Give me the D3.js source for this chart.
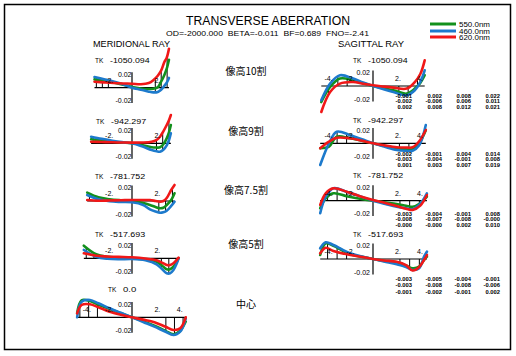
<!DOCTYPE html>
<html><head><meta charset="utf-8">
<script src="https://cdn.jsdelivr.net/npm/d3@7"></script>
<style>body{margin:0;background:#fff}svg{display:block}</style>
</head><body>
<svg id="chart" width="516" height="356"></svg>
<script>
// ---------------- DATA ----------------
const titleText = "TRANSVERSE ABERRATION";
const subtitleText = "OD=-2000.000\u00a0\u00a0BETA=-0.011\u00a0\u00a0BF=0.689\u00a0\u00a0FNO=-2.41";
const wavelengths = ["550.0nm", "460.0nm", "620.0nm"];
const fieldLabels = ["像高10割", "像高9割", "像高7.5割", "像高5割", "中心"];
const tkValues = ["-1050.094", "-942.297", "-781.752", "-517.693", "0.0"];
const xTickValues = [-4, -2, 2, 4];
const yTickValues = [0.02, -0.02];

// Meridional ray fans: pupil coordinate and aberration per wavelength
const merPupil = [
  [-3.35, -2.5, -1.65, -0.8, 0, 0.8, 1.5, 1.9, 2.3, 2.6, 2.9, 3.1, 3.3],
  [-3.65, -2.7, -1.75, -0.9, 0, 0.9, 1.75, 2.2, 2.5, 2.8, 3.1, 3.3, 3.47],
  [-4.0, -3.0, -2.0, -1.0, 0, 1.0, 1.6, 2.1, 2.5, 2.8, 3.1, 3.5, 3.8],
  [-4.3, -3.2, -2.2, -1.2, 0, 1.2, 2.2, 2.7, 3.1, 3.4, 3.7, 4.0, 4.16],
  [-4.9, -4.5, -3.75, -3.0, -2.0, -1.0, 0, 1.0, 2.0, 3.0, 3.7, 4.3, 4.8]
];
const merGreen = [
  [0.0119, 0.0100, 0.0076, 0.0043, 0.0010, -0.0011, -0.0019, -0.0014, 0.0007, 0.0086, 0.0186, 0.0271, 0.0400],
  [0.0057, 0.0040, 0.0023, 0.0011, 0, -0.0026, -0.0057, -0.0061, -0.0057, -0.0014, 0.0071, 0.0157, 0.0261],
  [0.0119, 0.0053, 0.0026, 0.0011, 0, -0.0029, -0.0057, -0.0086, -0.0104, -0.0097, -0.0057, 0.0014, 0.0110],
  [0.0180, 0.0057, 0.0021, 0.0009, 0, -0.0017, -0.0050, -0.0107, -0.0157, -0.0157, -0.0119, -0.0050, 0],
  [0.0057, 0.0243, 0.0233, 0.0179, 0.0119, 0.0057, 0, -0.0057, -0.0119, -0.0193, -0.0243, -0.0193, -0.0061]
];
const merBlue = [
  [0.0153, 0.0122, 0.0090, 0.0050, 0, -0.0029, -0.0057, -0.0067, -0.0061, -0.0029, 0.0029, 0.0071, 0.0139],
  [0.0094, 0.0064, 0.0037, 0.0017, 0, -0.0043, -0.0096, -0.0114, -0.0120, -0.0093, -0.0029, 0.0043, 0.0143],
  [0.0086, 0.0024, -0.0004, -0.0014, -0.0019, -0.0057, -0.0119, -0.0150, -0.0167, -0.0160, -0.0139, -0.0071, -0.0010],
  [0.0119, 0.0023, -0.0007, -0.0014, -0.0010, -0.0029, -0.0086, -0.0157, -0.0214, -0.0214, -0.0167, -0.0071, 0],
  [0, 0.0223, 0.0247, 0.0200, 0.0129, 0.0064, 0, -0.0067, -0.0134, -0.0207, -0.0253, -0.0206, -0.0014]
];
const merRed = [
  [0.0086, 0.0076, 0.0067, 0.0061, 0.0057, 0.0050, 0.0067, 0.0107, 0.0171, 0.0243, 0.0371, 0.0429, 0.0557],
  [0.0023, 0.0019, 0.0014, 0.0011, 0.0009, 0.0011, 0.0023, 0.0050, 0.0094, 0.0171, 0.0261, 0.0329, 0.0404],
  [0.0014, 0.0004, 0.0007, 0.0011, 0.0014, 0.0014, 0.0014, 0, -0.0010, 0, 0.0043, 0.0157, 0.0229],
  [0.0071, 0.0037, 0.0026, 0.0020, 0.0014, -0.0003, -0.0029, -0.0064, -0.0096, -0.0096, -0.0071, -0.0021, 0.0009],
  [0.0057, 0.0176, 0.0186, 0.0143, 0.0080, 0.0036, 0, -0.0033, -0.0071, -0.0136, -0.0181, -0.0157, 0]
];

// Sagittal ray fans
const sagPupil = [
  [-4.7, -3.9, -3.0, -1.8, -0.9, 0, 0.9, 1.85, 3.06, 3.8, 4.3, 4.7],
  [-4.8, -4.0, -3.3, -2.1, -1.0, 0, 1.0, 2.15, 3.0, 3.6, 4.2, 4.8],
  [-4.8, -4.3, -3.6, -2.4, -1.2, 0, 1.2, 2.15, 3.0, 3.6, 4.3, 4.9],
  [-4.8, -4.3, -3.6, -2.06, -1.0, 0, 1.0, 2.15, 3.0, 3.6, 4.2, 4.64, 4.9]
];
const sagGreen = [
  [-0.0229, -0.0014, 0.0106, 0.0081, 0.0040, 0, -0.0031, -0.0061, -0.0109, -0.0037, 0.0043, 0.0153],
  [-0.0071, -0.0049, 0.0094, 0.0071, 0.0036, 0, -0.0036, -0.0071, -0.0086, -0.0086, 0, 0.0190],
  [-0.0109, 0.0034, 0.0106, 0.0064, 0.0029, 0, -0.0026, -0.0047, -0.0071, -0.0086, -0.0036, 0.0057],
  [0.0057, 0.0224, 0.0190, 0.0067, 0.0031, 0, -0.0029, -0.0047, -0.0093, -0.0133, -0.0110, -0.0014, 0.0033]
];
const sagBlue = [
  [-0.0204, 0.0034, 0.0153, 0.0106, 0.0050, 0, -0.0043, -0.0086, -0.0133, -0.0061, 0.0057, 0.0224],
  [-0.0310, 0, 0.0166, 0.0119, 0.0057, 0, -0.0046, -0.0096, -0.0107, -0.0106, -0.0029, 0.0261],
  [-0.0180, 0.0057, 0.0177, 0.0129, 0.0064, 0, -0.0050, -0.0086, -0.0107, -0.0123, -0.0043, 0.0106],
  [0.0153, 0.0239, 0.0200, 0.0081, 0.0036, 0, -0.0036, -0.0076, -0.0114, -0.0157, -0.0133, 0.0033, 0.0104]
];
const sagRed = [
  [-0.0371, -0.0086, 0.0034, 0.0057, 0.0031, 0.0010, -0.0007, -0.0023, -0.0037, 0.0057, 0.0171, 0.0367],
  [-0.0071, 0.0024, 0.0079, 0.0071, 0.0036, 0, -0.0029, -0.0057, -0.0060, -0.0057, 0.0029, 0.0190],
  [-0.0061, 0.0106, 0.0177, 0.0129, 0.0064, 0.0010, -0.0036, -0.0076, -0.0114, -0.0133, -0.0071, 0.0081],
  [0.0081, 0.0161, 0.0114, 0.0057, 0.0029, 0, -0.0021, -0.0039, -0.0086, -0.0164, -0.0114, -0.0014, 0.0057]
];

// Numeric tables beside the sagittal fans (3 rows x 4 columns)
const sagTable1 = [["-0.001", "0.002", "0.008", "0.022"], ["-0.002", "-0.006", "0.006", "0.011"], ["0.002", "0.008", "0.012", "0.021"]];
const sagTable2 = [["-0.002", "-0.001", "0.004", "0.014"], ["-0.003", "-0.004", "-0.001", "0.008"], ["0.001", "0.003", "0.007", "0.019"]];
const sagTable3 = [["-0.003", "-0.004", "-0.001", "0.008"], ["-0.008", "-0.007", "-0.008", "-0.000"], ["-0.000", "-0.000", "0.002", "0.010"]];
const sagTable4 = [["-0.003", "-0.005", "-0.004", "-0.001"], ["-0.003", "-0.008", "-0.008", "-0.006"], ["-0.001", "-0.002", "-0.001", "0.002"]];
const sagTables = [sagTable1, sagTable2, sagTable3, sagTable4];

// ---------------- RENDER ----------------
const svg = d3.select("#chart");
const colors = ["#12901c", "#1d7acc", "#f01818"];
const FONT = "'Liberation Sans', Arial, sans-serif";
const CJK = "'Noto Sans CJK JP', sans-serif";

svg.append("rect").attr("x", 4.5).attr("y", 4.5).attr("width", 506).attr("height", 345)
  .attr("fill", "none").attr("stroke", "#000").attr("stroke-width", 1.5);

function txt(x, y, s, size, opts = {}) {
  const t = svg.append("text").attr("x", x).attr("y", y).text(s)
    .attr("font-family", opts.family || FONT).attr("font-size", size)
    .attr("fill", opts.fill || "#000");
  if (opts.anchor) t.attr("text-anchor", opts.anchor);
  if (opts.len) t.attr("textLength", opts.len).attr("lengthAdjust", "spacingAndGlyphs");
  if (opts.weight) t.attr("font-weight", opts.weight);
  return t;
}

txt(186, 25, titleText, 12, { len: 164 });
txt(166, 36, subtitleText, 6.5, { len: 203 });
txt(93, 46.5, "MERIDIONAL RAY", 8.5, { len: 77 });
txt(338, 46.5, "SAGITTAL RAY", 8.5, { len: 66 });

// legend
const legY = [24, 31, 37];
wavelengths.forEach((w, i) => {
  svg.append("line").attr("x1", 430).attr("x2", 456).attr("y1", legY[i]).attr("y2", legY[i])
    .attr("stroke", colors[i]).attr("stroke-width", 3);
  txt(459, legY[i] + 2.5, w, 6.5, { len: 31 });
});

function drawFan(cx, ay, kx, us, series, tk, tkX, tkY, yLabGap, fr) {
  const x = d3.scaleLinear().domain([-1, 1]).range([cx - kx, cx + kx]);
  const y = d3.scaleLinear().domain([-0.02, 0.02]).range([ay + 14, ay - 14]);
  const g = svg.append("g");
  const u0 = us[0], u1 = us[us.length - 1];
  const interp = series.map(s => d3.scaleLinear().domain(us).range(s));
  // hatch lines from the axis to the fans
  const hs = fr.map(f => f * u0).concat(fr.map(f => f * u1));
  hs.forEach(h => {
    const vals = interp.map(f => f(h));
    const lo = Math.min(0, ...vals), hi = Math.max(0, ...vals);
    g.append("line").attr("x1", x(h)).attr("x2", x(h)).attr("y1", y(lo)).attr("y2", y(hi))
      .attr("stroke", "#000").attr("stroke-width", 1);
  });
  // axes
  g.append("line").attr("x1", x(u0)).attr("x2", x(u1)).attr("y1", y(0)).attr("y2", y(0))
    .attr("stroke", "#000").attr("stroke-width", 1.2);
  g.append("line").attr("x1", x(0)).attr("x2", x(0)).attr("y1", y(0.022)).attr("y2", y(-0.022))
    .attr("stroke", "#000").attr("stroke-width", 1.2);
  // tick labels
  xTickValues.filter(t => Math.abs(t) <= Math.max(-u0, u1) - 0.5).forEach(t => {
    txt(x(t) - (t < 0 ? 4.5 : 0), y(0) - 5, t + ".", 7);
  });
  yTickValues.forEach(v => {
    txt(x(0) - yLabGap, y(v * 0.93) + 2.5, (v < 0 ? "-" : "") + "0.02", 7, { anchor: "end" });
  });
  // TK label
  txt(tkX, tkY, "TK", 6.5);
  txt(tkX + 15, tkY, tk, 7, { len: tk.length * 4.4 });
  // curves
  const line = d3.line().x(d => x(d[0])).y(d => y(d[1])).curve(d3.curveCatmullRom.alpha(0.5));
  series.forEach((s, i) => {
    g.append("path").attr("d", line(us.map((u, j) => [u, s[j]])))
      .attr("fill", "none").attr("stroke", colors[i]).attr("stroke-width", 2.6)
      .attr("stroke-linejoin", "round").attr("stroke-linecap", "round");
  });
}

const merAxisY = [87.7, 143.3, 201, 258.3, 317.3];
const merTkPos = [[95, 63], [96, 123.5], [95, 179], [95, 237], [108, 292]];
merPupil.forEach((us, i) => {
  drawFan(132, merAxisY[i], 11.2, us, [merGreen[i], merBlue[i], merRed[i]], tkValues[i],
    merTkPos[i][0], merTkPos[i][1], 0.5, [0.63, 0.79, 0.95]);
});

const sagAxisY = [86, 143.3, 200.7, 259];
const sagTkY = [63, 123, 178, 237];
const tableY = [97.5, 155.5, 215.5, 281];
const rowGap = [5.6, 5.6, 5.6, 6.3];
const colRight = [412, 442, 471, 500];
sagPupil.forEach((us, i) => {
  drawFan(373, sagAxisY[i], 11, us, [sagGreen[i], sagBlue[i], sagRed[i]], tkValues[i],
    353, sagTkY[i], 3, [0.5, 0.68, 0.86]);
  sagTables[i].forEach((row, r) => {
    row.forEach((v, c) => {
      txt(colRight[c], tableY[i] + r * rowGap[i], v, 5.8, { anchor: "end", weight: "bold" });
    });
  });
});

// field labels in the middle column
const fieldY = [75, 135, 194, 248, 308];
fieldLabels.forEach((f, i) => {
  txt(246, fieldY[i], f, 10, { anchor: "middle", family: CJK });
});
</script>
</body></html>
